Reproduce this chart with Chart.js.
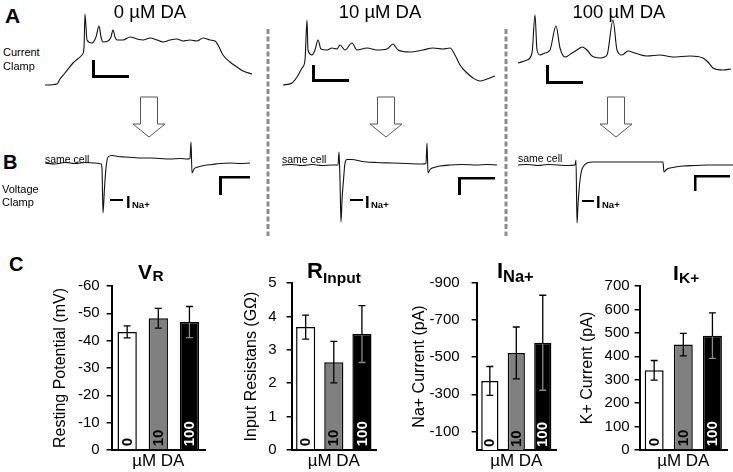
<!DOCTYPE html>
<html>
<head>
<meta charset="utf-8">
<script src="https://cdn.jsdelivr.net/npm/chart.js@4.4.1/dist/chart.umd.min.js"></script>
<style>
  html, body { margin: 0; padding: 0; background: #fff; }
  #fig { position: relative; width: 733px; height: 472px; overflow: hidden;
         font-family: "Liberation Sans", Arial, sans-serif; color: #000; }
  #fig canvas, #fig svg { position: absolute; }
  .t { position: absolute; white-space: nowrap; line-height: 1; color: #000; }
  .b { font-weight: bold; }
  .c { transform: translateX(-50%); }
</style>
</head>
<body>
<div id="fig">
  <svg width="733" height="472" style="left:0;top:0">
    <!-- dividers between the three DA conditions -->
    <line x1="268" y1="29" x2="268" y2="236" stroke="#8c8c8c" stroke-width="3" stroke-dasharray="5 2.5"/>
    <line x1="506" y1="29" x2="506" y2="236" stroke="#8c8c8c" stroke-width="3" stroke-dasharray="5 2.5"/>
    <!-- arrows current clamp -> voltage clamp -->
    <g fill="#fff" stroke="#555" stroke-width="1">
      <polygon points="140.5,97 157.5,97 157.5,124 165,124 149,137 133,124 140.5,124"/>
      <polygon points="377.5,97 394.5,97 394.5,124 402,124 386,137 370,124 377.5,124"/>
      <polygon points="607.5,97 624.5,97 624.5,124 632,124 616,137 600,124 607.5,124"/>
    </g>
    <!-- scale bars -->
    <g fill="#000">
      <rect x="92" y="60" width="3" height="18"/><rect x="92" y="75" width="37" height="3"/>
      <rect x="312" y="65" width="3" height="17"/><rect x="312" y="79" width="37" height="3"/>
      <rect x="546" y="65" width="3" height="19"/><rect x="546" y="81" width="37" height="3"/>
      <rect x="219" y="176" width="31" height="2.5"/><rect x="219" y="176" width="3" height="19"/>
      <rect x="458" y="177" width="37" height="2.5"/><rect x="458" y="177" width="3" height="18"/>
      <rect x="694" y="175" width="36" height="2.5"/><rect x="694" y="175" width="2.5" height="16"/>
    </g>
  </svg>

  <canvas id="cc0" width="210" height="90" style="left:45px;top:5px"></canvas>
  <canvas id="cc1" width="215" height="90" style="left:283px;top:5px"></canvas>
  <canvas id="cc2" width="215" height="90" style="left:518px;top:5px"></canvas>
  <canvas id="vc0" width="210" height="90" style="left:45px;top:135px"></canvas>
  <canvas id="vc1" width="215" height="90" style="left:282px;top:135px"></canvas>
  <canvas id="vc2" width="215" height="90" style="left:518px;top:135px"></canvas>

  <canvas id="barVR"></canvas>
  <canvas id="barRin"></canvas>
  <canvas id="barNa"></canvas>
  <canvas id="barK"></canvas>

  <!-- panel letters and labels -->
  <div class="t b" style="left:5px;top:5px;font-size:21px">A</div>
  <div class="t b" style="left:3px;top:152px;font-size:20px">B</div>
  <div class="t b" style="left:9px;top:254px;font-size:20px">C</div>

  <div class="t c" style="left:150px;top:3px;font-size:18.5px">0 µM DA</div>
  <div class="t c" style="left:380px;top:3px;font-size:18.5px">10 µM DA</div>
  <div class="t c" style="left:619px;top:3px;font-size:18.5px">100 µM DA</div>

  <div class="t" style="left:3px;top:46.5px;font-size:11px">Current</div>
  <div class="t" style="left:3px;top:60.5px;font-size:11px">Clamp</div>
  <div class="t" style="left:2px;top:183.5px;font-size:11px">Voltage</div>
  <div class="t" style="left:2px;top:197px;font-size:11px">Clamp</div>

  <div class="t" style="left:45px;top:153.5px;font-size:10.5px">same cell</div>
  <div class="t" style="left:282px;top:153.5px;font-size:10.5px">same cell</div>
  <div class="t" style="left:518px;top:152.5px;font-size:10.5px">same cell</div>

  <div style="position:absolute;left:110px;top:199.3px;width:13px;height:1.6px;background:#000"></div>
  <div class="t b" style="left:126px;top:194px;font-size:16.5px">I</div>
  <div class="t b" style="left:132px;top:200px;font-size:9.5px">Na+</div>
  <div style="position:absolute;left:350px;top:199.3px;width:13px;height:1.6px;background:#000"></div>
  <div class="t b" style="left:365px;top:194px;font-size:16.5px">I</div>
  <div class="t b" style="left:371px;top:200px;font-size:9.5px">Na+</div>
  <div style="position:absolute;left:582px;top:200px;width:12px;height:1.6px;background:#000"></div>
  <div class="t b" style="left:596px;top:194px;font-size:16.5px">I</div>
  <div class="t b" style="left:602px;top:200px;font-size:9.5px">Na+</div>

  <!-- bar chart titles -->
  <div class="t b" style="left:138px;top:261px;font-size:21px">V</div>
  <div class="t b" style="left:152.5px;top:268px;font-size:15.5px">R</div>
  <div class="t b" style="left:307px;top:260px;font-size:22px">R</div>
  <div class="t b" style="left:323px;top:270px;font-size:15.5px">Input</div>
  <div class="t b" style="left:497px;top:260px;font-size:22px">I</div>
  <div class="t b" style="left:503px;top:268px;font-size:16.5px">Na+</div>
  <div class="t b" style="left:673px;top:262px;font-size:21px">I</div>
  <div class="t b" style="left:679px;top:270px;font-size:15.5px">K+</div>
</div>

<script>
// current clamp traces: time (ms) and membrane potential (mV)
const cc0T = [0, 60, 75, 100, 140, 185, 195, 200, 210, 235, 255, 270, 280, 290, 315, 330, 340, 350, 360, 390,
              425, 460, 490, 525, 560, 590, 625, 660, 690, 725, 760, 790, 825, 850, 865, 890, 925, 960, 990, 1035];
const cc0V = [-60, -59, -54, -48, -38, -30, -23, 11, -15, -18, -12, -1, -12, -17, -16, -12, -5, -12, -15, -15,
              -12, -14, -15, -13, -15, -17, -15, -14, -16, -15, -16, -13, -15, -16, -20, -30, -37, -42, -46, -49];
const cc1T = [0, 45, 70, 95, 110, 120, 125, 145, 160, 175, 190, 220, 245, 270, 285, 310, 345, 370, 420, 470,
              520, 550, 575, 635, 700, 750, 800, 835, 860, 885, 920, 950, 985, 1020, 1060];
const cc1V = [-60, -58, -52, -43, -35, 5, -25, -30, -25, -15, -24, -25, -23, -24, -20, -25, -18, -25, -23, -25,
              -24, -19, -25, -27, -25, -23, -24, -23, -30, -40, -48, -53, -56, -54, -51];
const cc2T = [0, 45, 70, 85, 95, 110, 135, 160, 190, 210, 235, 270, 295, 320, 345, 370, 410, 445, 475, 495,
              520, 550, 585, 645, 710, 775, 860, 925, 950, 975, 1025, 1065];
const cc2V = [-38, -35, -28, 10, -25, -30, -28, -25, -1, -23, -32, -28, -25, -22, -25, -31, -33, -30, 5, -25,
              -30, -26, -28, -31, -30, -32, -31, -33, -37, -43, -45, -44];

// voltage clamp traces: time (ms) and current (pA)
const vc0T = [0, 20, 40, 60, 80, 100, 112, 114, 116, 119, 122, 126, 134, 146, 160, 176, 194, 210, 230, 250,
              270, 284, 290, 292, 294, 298, 306, 318, 334, 350, 370, 390, 410];
const vc0I = [0, -20, 10, -10, 10, 0, -20, -100, -1000, -500, -100, 120, 150, 130, 120, 110, 100, 100, 90, 80,
              90, 80, 90, 420, -200, -120, -80, -50, -30, -10, 0, -10, 0];
const vc1T = [0, 20, 40, 60, 80, 100, 112, 114, 116, 118, 120, 123, 126, 130, 140, 160, 190, 220, 250, 280,
              288, 290, 292, 296, 304, 316, 336, 360, 390, 410, 430];
const vc1I = [0, 10, -10, 10, -10, 0, 0, 260, -300, -1140, -700, -300, 40, 110, 110, 70, 50, 40, 30, 20,
              30, 440, -160, -90, -50, -20, 0, 10, 0, 10, 0];
const vc2T = [0, 20, 40, 60, 80, 100, 114, 116, 118, 120, 123, 126, 130, 138, 150, 170, 200, 230, 260, 288,
              290, 292, 298, 310, 330, 355, 380, 405, 430];
const vc2I = [0, 10, -10, 10, 0, -10, 0, 100, -1160, -800, -400, -160, -40, 40, 60, 60, 60, 60, 60, 60,
              60, -140, -80, -50, -20, -10, 0, 0, 0];

// bar data: mean and SEM per DA concentration
const doses = ['0', '10', '100'];
const vrMean = [-43.2, -48.2, -46.8];
const vrErr = [2.2, 3.6, 5.7];
const rinMean = [3.68, 2.63, 3.47];
const rinErr = [0.36, 0.62, 0.85];
const naMean = [-372, -523, -578];
const naErr = [78, 140, 256];
const kMean = [340, 450, 488];
const kErr = [42, 48, 97];

const vrTicks = [0, -10, -20, -30, -40, -50, -60];
const rinTicks = [0, 1, 2, 3, 4, 5];
const naTicks = [-100, -300, -500, -700, -900];
const kTicks = [0, 100, 200, 300, 400, 500, 600, 700];

const barFill = ['#ffffff', '#808080', '#000000'];
const barInk = ['#000000', '#000000', '#ffffff'];

Chart.defaults.font.family = '"Liberation Sans", Arial, sans-serif';
Chart.defaults.color = '#000';

function trace(id, ts, vs, xMax, yMin, yMax) {
  new Chart(document.getElementById(id), {
    type: 'line',
    data: {
      datasets: [{
        data: ts.map((t, i) => ({ x: t, y: vs[i] })),
        borderColor: '#111',
        borderWidth: 1.1,
        pointRadius: 0,
        cubicInterpolationMode: 'monotone'
      }]
    },
    options: {
      responsive: false, animation: false, devicePixelRatio: 1,
      layout: { padding: 0 },
      plugins: { legend: { display: false }, tooltip: { enabled: false } },
      scales: {
        x: { type: 'linear', display: false, min: 0, max: xMax },
        y: { type: 'linear', display: false, min: yMin, max: yMax }
      }
    }
  });
}

trace('cc0', cc0T, cc0V, 1050, -70, 20);
trace('cc1', cc1T, cc1V, 1075, -70, 20);
trace('cc2', cc2T, cc2V, 1075, -70, 20);
trace('vc0', vc0T, vc0I, 420, -1240, 560);
trace('vc1', vc1T, vc1I, 430, -1200, 600);
trace('vc2', vc2T, vc2I, 430, -1200, 600);

// error bars, drawn over the bars
const whiskers = {
  id: 'whiskers',
  afterDatasetsDraw(chart, args, o) {
    const ctx = chart.ctx, ys = chart.scales.y;
    chart.getDatasetMeta(0).data.forEach((bar, i) => {
      const a = ys.getPixelForValue(o.means[i] - o.errs[i]);
      const b = ys.getPixelForValue(o.means[i] + o.errs[i]);
      const top = Math.min(a, b), bot = Math.max(a, b);
      ctx.save();
      ctx.lineWidth = 1.3;
      ctx.strokeStyle = '#000';
      ctx.beginPath();
      ctx.moveTo(bar.x, top); ctx.lineTo(bar.x, bot);
      ctx.moveTo(bar.x - 3.5, top); ctx.lineTo(bar.x + 3.5, top);
      ctx.moveTo(bar.x - 3.5, bot); ctx.lineTo(bar.x + 3.5, bot);
      ctx.stroke();
      if (i === 2) {
        ctx.strokeStyle = '#8a8a8a';
        ctx.beginPath();
        ctx.moveTo(bar.x, bar.y + 1); ctx.lineTo(bar.x, bot);
        ctx.moveTo(bar.x - 3.5, bot); ctx.lineTo(bar.x + 3.5, bot);
        ctx.stroke();
      }
      ctx.restore();
    });
  }
};

// dose written upward inside each bar
const doseLabels = {
  id: 'doseLabels',
  afterDatasetsDraw(chart) {
    const ctx = chart.ctx;
    chart.getDatasetMeta(0).data.forEach((bar, i) => {
      ctx.save();
      ctx.translate(bar.x + 0.5, bar.base - 3);
      ctx.rotate(-Math.PI / 2);
      ctx.font = 'bold 15px "Liberation Sans", Arial, sans-serif';
      ctx.fillStyle = barInk[i];
      ctx.textAlign = 'left';
      ctx.textBaseline = 'middle';
      ctx.fillText(doses[i], 0, 0);
      ctx.restore();
    });
  }
};

function barChart(id, means, errs, ticks, c) {
  const cv = document.getElementById(id);
  const left = c.titleX - 9.6;
  cv.width = Math.round(c.right + 3 - left);
  cv.height = 222;
  cv.style.left = left + 'px';
  cv.style.top = '250px';
  new Chart(cv, {
    type: 'bar',
    data: {
      labels: doses,
      datasets: [{
        data: means,
        backgroundColor: barFill,
        borderColor: '#000',
        borderWidth: 1.5,
        categoryPercentage: 1,
        barPercentage: c.bp
      }]
    },
    options: {
      responsive: false, animation: false, devicePixelRatio: 1,
      layout: { padding: { top: c.top - 250, right: 3, left: 0, bottom: 0 } },
      plugins: {
        legend: { display: false }, tooltip: { enabled: false },
        whiskers: { means, errs }
      },
      scales: {
        x: {
          grid: { display: false, drawTicks: false },
          border: { display: true, color: '#000', width: 2 },
          ticks: { display: false },
          title: { display: true, text: 'µM DA', font: { size: 17 }, padding: 0 },
          afterFit: s => { s.height = 22; }
        },
        y: {
          min: c.min, max: c.max, reverse: c.reverse,
          grid: { display: true, drawOnChartArea: false, drawTicks: true, tickLength: 5, color: '#000', lineWidth: 1.5 },
          border: { display: true, color: '#000', width: 2 },
          ticks: { font: { size: 15 }, padding: c.pad, autoSkip: false },
          title: { display: true, text: c.title, font: { size: 16 }, padding: 0 },
          afterBuildTicks: s => { s.ticks = ticks.map(v => ({ value: v })); },
          afterFit: s => { s.width = c.axisX - left; }
        }
      }
    },
    plugins: [whiskers, doseLabels]
  });
}

barChart('barVR', vrMean, vrErr, vrTicks,
  { titleX: 61, axisX: 112, top: 286, right: 205, pad: 7, bp: 0.62, min: -60, max: 0, reverse: true, title: 'Resting Potential (mV)' });
barChart('barRin', rinMean, rinErr, rinTicks,
  { titleX: 252, axisX: 292, top: 283, right: 376, pad: 10, bp: 0.68, min: 0, max: 5, reverse: false, title: 'Input Resistans (GΩ)' });
barChart('barNa', naMean, naErr, naTicks,
  { titleX: 420, axisX: 477, top: 283, right: 556, pad: 12, bp: 0.65, min: -900, max: 0, reverse: true, title: 'Na+ Current (pA)' });
barChart('barK', kMean, kErr, kTicks,
  { titleX: 588, axisX: 640, top: 286, right: 727, pad: 5, bp: 0.65, min: 0, max: 700, reverse: false, title: 'K+ Current (pA)' });
</script>
</body>
</html>
